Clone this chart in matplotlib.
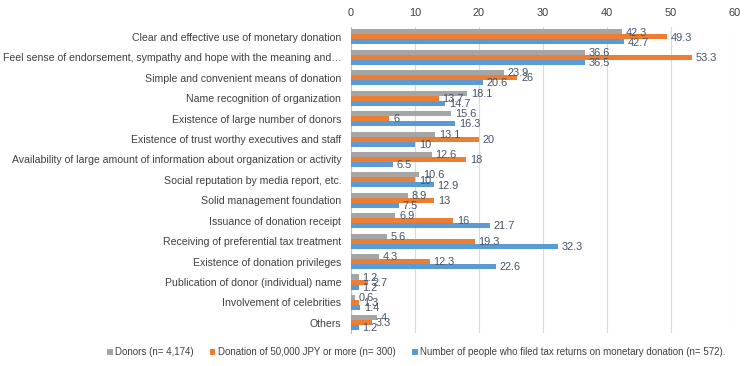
import matplotlib
matplotlib.use("Agg")
import matplotlib.pyplot as plt
import numpy as np

categories = [
    "Clear and effective use of monetary donation",
    "Feel sense of endorsement, sympathy and hope with the meaning and…",
    "Simple and convenient means of donation",
    "Name recognition of organization",
    "Existence of large number of donors",
    "Existence of trust worthy executives and staff",
    "Availability of large amount of information about organization or activity",
    "Social reputation by media report, etc.",
    "Solid management foundation",
    "Issuance of donation receipt",
    "Receiving of preferential tax treatment",
    "Existence of donation privileges",
    "Publication of donor (individual) name",
    "Involvement of celebrities",
    "Others",
]
donors = [42.3, 36.6, 23.9, 18.1, 15.6, 13.1, 12.6, 10.6, 8.9, 6.9, 5.6, 4.3, 1.2, 0.6, 4]
donation_50k = [49.3, 53.3, 26, 13.7, 6, 20, 18, 10, 13, 16, 19.3, 12.3, 2.7, 1.3, 3.3]
tax_filers = [42.7, 36.5, 20.6, 14.7, 16.3, 10, 6.5, 12.9, 7.5, 21.7, 32.3, 22.6, 1.2, 1.4, 1.2]
series_names = [
    "Donors (n= 4,174)",
    "Donation of 50,000 JPY or more (n= 300)",
    "Number of people who filed tax returns on monetary donation (n= 572).",
]
xticks = [0, 10, 20, 30, 40, 50, 60]

colors = ["#A5A5A5", "#ED7D31", "#5B9BD5"]
plt.rcParams['font.family'] = ['Liberation Sans', 'DejaVu Sans']

fig = plt.figure(figsize=(7.5, 3.66), dpi=100)
ax = fig.add_axes([0.468, 0.090, 0.512, 0.837])

y = np.arange(len(categories))
h = 0.245
for k, (vals, c, name) in enumerate(zip([donors, donation_50k, tax_filers], colors, series_names)):
    pos = y + (k - 1) * h
    ax.barh(pos, vals, height=h, color=c, label=name, zorder=3)
    for p, v in zip(pos, vals):
        ax.text(v + 0.6, p + 0.03, f"{v:g}", va="center", ha="left", fontsize=7.9,
                color="#44546A", zorder=4)

ax.set_ylim(len(categories) - 0.5, -0.5)
ax.set_xlim(0, 60)
ax.set_xticks(xticks)
ax.xaxis.tick_top()
ax.tick_params(axis="x", length=0, labelsize=7.9, labelcolor="#404040", pad=6)
ax.set_yticks(y)
ax.set_yticklabels(categories, fontsize=7.6, color="#404040")
ax.tick_params(axis="y", length=0, pad=7)
ax.grid(axis="x", color="#D9D9D9", linewidth=0.8, zorder=0)
for s in ["top", "right", "bottom"]:
    ax.spines[s].set_visible(False)
ax.spines["left"].set_color("#BFBFBF")
ax.spines["left"].set_linewidth(0.8)

handles, labels = ax.get_legend_handles_labels()
fig.legend(handles, labels, loc="center", bbox_to_anchor=(0.555, 0.038), ncol=3,
           frameon=False, fontsize=7.0, handlelength=0.6, handleheight=0.6,
           handletextpad=0.3, columnspacing=1.6, labelcolor="#404040")

fig.savefig("out.png", dpi=100)
